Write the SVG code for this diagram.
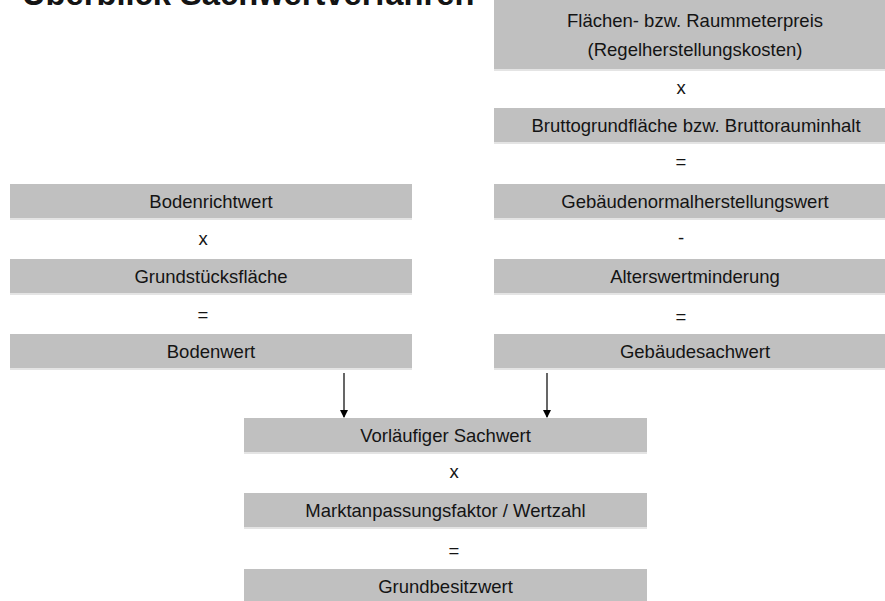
<svg xmlns="http://www.w3.org/2000/svg" width="885" height="601" viewBox="0 0 885 601">
<defs>
<style>
.box{fill:#c0c0c0;}
.sh{fill:#e4e4e4;}
.t{font-family:"Liberation Sans",Arial,sans-serif;font-size:18.5px;fill:#141414;text-anchor:middle;}
.title{font-family:"Liberation Sans",Arial,sans-serif;font-size:32.7px;font-weight:bold;fill:#141414;}
.c{stroke:#000;stroke-width:1.2;fill:none;}
</style>
<marker id="ah" markerWidth="8" markerHeight="8" refX="7" refY="4" orient="auto" markerUnits="userSpaceOnUse">
<path d="M0,0 L8,4 L0,8 Z" fill="#000"/>
</marker>
</defs>
<rect width="885" height="601" fill="#fff"/>
<text class="title" x="22" y="5">Überblick Sachwertverfahren</text>

<g id="flaechenpreis"><rect class="sh" x="494" y="69" width="400" height="2"/><rect class="box" x="494" y="0" width="400" height="69"/><text class="t" x="695" y="27">Flächen- bzw. Raummeterpreis</text><text class="t" x="695" y="56">(Regelherstellungskosten)</text></g>
<text class="t" x="681" y="94">x</text>
<g id="bruttogrundflaeche"><rect class="sh" x="494" y="142" width="400" height="2"/><rect class="box" x="494" y="108" width="400" height="34"/><text class="t" x="696" y="131.5">Bruttogrundfläche bzw. Bruttorauminhalt</text></g>
<text class="t" x="681" y="168">=</text>
<g id="gebaeudenormal"><rect class="sh" x="494" y="218" width="400" height="2"/><rect class="box" x="494" y="184" width="400" height="34"/><text class="t" x="695" y="207.5">Gebäudenormalherstellungswert</text></g>
<text class="t" x="681" y="244">-</text>
<g id="alterswertminderung"><rect class="sh" x="494" y="293" width="400" height="2"/><rect class="box" x="494" y="259" width="400" height="34"/><text class="t" x="695" y="282.5">Alterswertminderung</text></g>
<text class="t" x="681" y="322.5">=</text>
<g id="gebaeudesachwert"><rect class="sh" x="494" y="368" width="400" height="2"/><rect class="box" x="494" y="334" width="400" height="34"/><text class="t" x="695" y="357.5">Gebäudesachwert</text></g>

<g id="bodenrichtwert"><rect class="sh" x="10" y="218" width="402" height="2"/><rect class="box" x="10" y="184" width="402" height="34"/><text class="t" x="211" y="207.5">Bodenrichtwert</text></g>
<text class="t" x="203" y="245">x</text>
<g id="grundstuecksflaeche"><rect class="sh" x="10" y="293" width="402" height="2"/><rect class="box" x="10" y="259" width="402" height="34"/><text class="t" x="211" y="282.5">Grundstücksfläche</text></g>
<text class="t" x="203" y="321">=</text>
<g id="bodenwert"><rect class="sh" x="10" y="368" width="402" height="2"/><rect class="box" x="10" y="334" width="402" height="34"/><text class="t" x="211" y="357.5">Bodenwert</text></g>

<g id="connectors">
<line class="c" x1="344" y1="373" x2="344" y2="417" marker-end="url(#ah)"/>
<line class="c" x1="547" y1="373" x2="547" y2="417" marker-end="url(#ah)"/>
</g>

<g id="vorlaeufiger"><rect class="sh" x="244" y="452" width="403" height="2"/><rect class="box" x="244" y="418" width="403" height="34"/><text class="t" x="445.5" y="441.5">Vorläufiger Sachwert</text></g>
<text class="t" x="454" y="478">x</text>
<g id="marktanpassung"><rect class="sh" x="244" y="527" width="403" height="2"/><rect class="box" x="244" y="493" width="403" height="34"/><text class="t" x="445.5" y="516.5">Marktanpassungsfaktor / Wertzahl</text></g>
<text class="t" x="454" y="557">=</text>
<g id="grundbesitzwert"><rect class="box" x="244" y="569" width="403" height="34"/><text class="t" x="445.5" y="592.5">Grundbesitzwert</text></g>
</svg>
